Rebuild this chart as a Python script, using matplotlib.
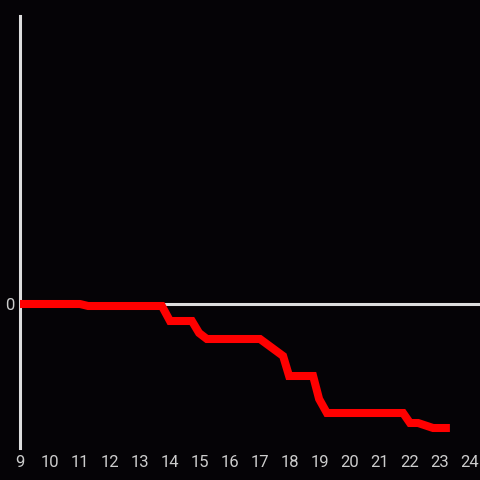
import matplotlib
matplotlib.use("Agg")
import matplotlib.pyplot as plt

plt.rcParams["font.family"] = ["Roboto", "DejaVu Sans"]

# hour of day vs. cumulative change (arbitrary units, 0 = baseline)
hours = [9.0, 11.0, 11.27, 13.73, 14.0, 14.73, 14.97, 15.23, 17.0, 17.77,
         17.97, 18.77, 18.97, 19.23, 21.77, 22.0, 22.27, 22.77, 23.33]
values = [0, 0, -2, -2, -17, -17, -29, -35, -35, -52,
          -72, -72, -95, -109, -109, -119, -119, -124, -124]
xticks = list(range(9, 25))

bg = "#050306"
fig = plt.figure(figsize=(4.8, 4.8), dpi=100, facecolor=bg)
ax = fig.add_axes([20 / 480, 32 / 480, 460 / 480, 432 / 480], facecolor=bg)

ax.axhline(0, color="#dddddd", lw=2.2, zorder=1)
ax.plot(hours, values, color="#ff0000", lw=5.8, solid_capstyle="butt",
        solid_joinstyle="miter", zorder=3)

ax.set_xlim(9, 9 + 460 / 30)
ax.set_ylim(-144, 288)

for side in ["top", "right", "bottom"]:
    ax.spines[side].set_visible(False)
ax.spines["left"].set_color("#dddddd")
ax.spines["left"].set_linewidth(2.2)

ax.set_xticks(xticks)
ax.set_xticklabels([str(h) for h in xticks])
ax.set_yticks([0])
ax.set_yticklabels(["0"])
ax.tick_params(colors="#cccccc", labelsize=12, length=0, pad=5)
ax.tick_params(axis="y", pad=4)

fig.savefig("out.png", dpi=100, facecolor=bg)
